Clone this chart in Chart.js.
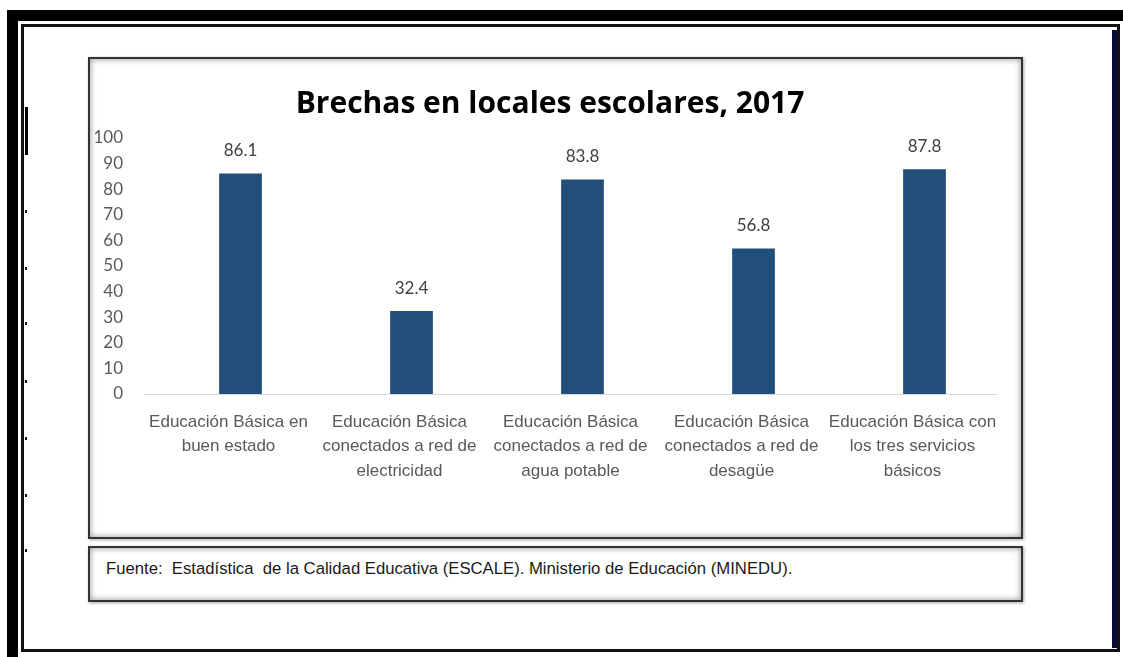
<!DOCTYPE html>
<html>
<head>
<meta charset="utf-8">
<script src="https://cdn.jsdelivr.net/npm/chart.js@4.4.0/dist/chart.umd.min.js"></script>
<style>
  html, body { margin: 0; padding: 0; background: #fff; }
  body { width: 1123px; height: 657px; position: relative; overflow: hidden; }
  .abs { position: absolute; }
  .thick-top { left: 7px; top: 10px; width: 1116px; height: 11px; background: #000; }
  .thick-left { left: 7px; top: 10px; width: 11px; height: 647px; background: #000; }
  .frame { left: 21px; top: 24px; width: 1093px; height: 622px; border: 3px solid #111; }
  .navy { left: 1112px; top: 30px; width: 5px; height: 618px; background: #0a0a3a; }
  .mark { left: 25px; width: 2px; height: 3px; background: #111; }
  .box {
    border: 2px solid #333;
    box-shadow: inset 0 0 6px rgba(0,0,0,0.45), 1px 1px 3px rgba(0,0,0,0.35);
    background: #fff;
  }
  #chartBox { left: 88px; top: 57px; width: 931px; height: 478px; }
  #sourceBox { left: 88px; top: 546px; width: 931px; height: 52px; }
  #sourceBox span {
    position: absolute; left: 16px; top: 11px; white-space: pre;
    font-family: "Liberation Sans Narrow", "Arial Narrow", "Liberation Sans", sans-serif;
    font-size: 16.7px; color: #1a1a1a;
  }
  #chartWrap { left: 90px; top: 59px; width: 931px; height: 478px; }
</style>
</head>
<body>
<div class="abs thick-top"></div>
<div class="abs thick-left"></div>
<div class="abs frame"></div>
<div class="abs navy"></div>
<div class="abs" style="left:25px;top:107px;width:3px;height:48px;background:#000"></div>
<div class="abs mark" style="top:210px"></div>
<div class="abs mark" style="top:267px"></div>
<div class="abs mark" style="top:322px"></div>
<div class="abs mark" style="top:380px"></div>
<div class="abs mark" style="top:437px"></div>
<div class="abs mark" style="top:494px"></div>
<div class="abs mark" style="top:549px"></div>

<div id="chartBox" class="abs box"></div>
<div id="sourceBox" class="abs box"><span>Fuente:  Estadística  de la Calidad Educativa (ESCALE). Ministerio de Educación (MINEDU).</span></div>
<div id="chartWrap" class="abs"><canvas id="barChart" width="931" height="478"></canvas></div>

<script>
const chartTitle = "Brechas en locales escolares, 2017";
const categories = [
  ["Educación Básica en", "buen estado"],
  ["Educación Básica", "conectados a red de", "electricidad"],
  ["Educación Básica", "conectados a red de", "agua potable"],
  ["Educación Básica", "conectados a red de", "desagüe"],
  ["Educación Básica con", "los tres servicios", "básicos"]
];
const values = [86.1, 32.4, 83.8, 56.8, 87.8];
const yTicks = [0, 10, 20, 30, 40, 50, 60, 70, 80, 90, 100];

const barColor = "#214f7a";
const tickFont = "Lato, 'Open Sans', sans-serif";

// draws the value over each bar and the light base line
const valueLabels = {
  id: "valueLabels",
  beforeDatasetsDraw(chart) {
    const ctx = chart.ctx;
    const area = chart.chartArea;
    const y0 = chart.scales.y.getPixelForValue(0);
    ctx.save();
    ctx.strokeStyle = "#d9d9d9";
    ctx.lineWidth = 1;
    ctx.beginPath();
    ctx.moveTo(area.left - 11, y0 + 0.5);
    ctx.lineTo(area.right - 13, y0 + 0.5);
    ctx.stroke();
    ctx.restore();
  },
  afterDatasetsDraw(chart) {
    const ctx = chart.ctx;
    const meta = chart.getDatasetMeta(0);
    ctx.save();
    ctx.font = "17px " + tickFont;
    ctx.fillStyle = "#404040";
    ctx.textAlign = "center";
    ctx.textBaseline = "middle";
    meta.data.forEach((bar, i) => {
      ctx.fillText(values[i].toFixed(1), bar.x, bar.y - 23);
    });
    ctx.restore();
  }
};

const ctx = document.getElementById("barChart").getContext("2d");
new Chart(ctx, {
  type: "bar",
  data: {
    labels: categories,
    datasets: [{
      data: values,
      backgroundColor: barColor,
      borderWidth: 0,
      categoryPercentage: 1,
      barPercentage: 0.25
    }]
  },
  options: {
    responsive: false,
    animation: false,
    layout: { padding: { left: 0, right: 11, top: 0, bottom: 0 } },
    plugins: {
      legend: { display: false },
      tooltip: { enabled: false },
      title: {
        display: true,
        text: chartTitle,
        color: "#000",
        font: { family: "'Open Sans', Lato, sans-serif", size: 30, weight: "bold" },
        padding: { top: 27, bottom: 16 }
      }
    },
    scales: {
      x: {
        grid: { display: false, drawTicks: false },
        border: { display: false },
        ticks: {
          color: "#595959",
          padding: 16,
          labelOffset: -12,
          maxRotation: 0,
          autoSkip: false,
          font: { family: "'Liberation Sans Narrow', 'Arial Narrow', 'Liberation Sans', sans-serif", size: 17, lineHeight: 1.44 }
        },
        afterFit(scale) {
          scale.height = 143;
          scale.paddingLeft = 0;
          scale.paddingRight = 0;
        }
      },
      y: {
        min: 0,
        max: 100,
        grid: { display: false, drawTicks: false },
        border: { display: false },
        afterBuildTicks(scale) { scale.ticks = yTicks.map(v => ({ value: v })); },
        ticks: {
          color: "#595959",
          padding: 32,
          font: { family: tickFont, size: 17 }
        },
        afterFit(scale) { scale.width = 65; }
      }
    }
  },
  plugins: [valueLabels]
});
</script>
</body>
</html>
